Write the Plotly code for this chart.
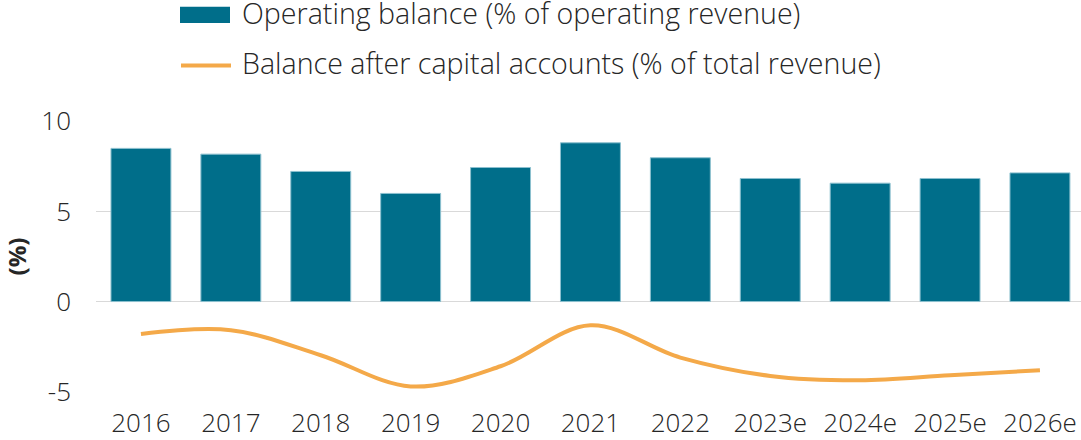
import plotly.graph_objects as go

years = ["2016", "2017", "2018", "2019", "2020", "2021", "2022",
         "2023e", "2024e", "2025e", "2026e"]
operating_balance = [8.50, 8.18, 7.22, 6.00, 7.44, 8.81, 7.98, 6.83, 6.57, 6.83, 7.14]
balance_after_capital = [-1.80, -1.59, -2.98, -4.71, -3.59, -1.32, -3.11, -4.13, -4.37, -4.09, -3.81]

bar_name = "Operating balance (% of operating revenue)"
line_name = "Balance after capital accounts (% of total revenue)"

BAR_COLOR = "#006E8A"
LINE_COLOR = "#F4A949"
TEXT_COLOR = "#262626"
FONT = "Open Sans"

W, H = 1081, 440
L, R = 96, 0
T = 121
AX_BOTTOM = 391.7
B = H - AX_BOTTOM
pw, ph = W - L - R, H - T - B
CAT_PX = 89.9
X_MAX = -0.5 + pw / CAT_PX

def px_x(x):
    return (x - L) / pw

def px_y(y):
    return (H - B - y) / ph

fig = go.Figure()
fig.add_trace(go.Bar(
    x=years, y=operating_balance, name=bar_name,
    marker=dict(color=BAR_COLOR, line=dict(color="#8cc0cf", width=1)),
    showlegend=False,
))
fig.add_trace(go.Scatter(
    x=years, y=balance_after_capital, name=line_name, mode="lines",
    line=dict(color=LINE_COLOR, width=4, shape="spline", smoothing=1.0),
    showlegend=False,
))

# custom legend
fig.add_shape(type="rect", xref="paper", yref="paper",
              x0=px_x(180), x1=px_x(230), y0=px_y(23), y1=px_y(7),
              fillcolor=BAR_COLOR, line=dict(width=0))
fig.add_shape(type="line", xref="paper", yref="paper",
              x0=px_x(181), x1=px_x(231), y0=px_y(65.5), y1=px_y(65.5),
              line=dict(color=LINE_COLOR, width=4))
for txt, yc in [(bar_name, 13), (line_name, 63)]:
    fig.add_annotation(text=txt, xref="paper", yref="paper",
                       x=px_x(240), y=px_y(yc), xanchor="left", yanchor="middle",
                       showarrow=False,
                       font=dict(family=FONT, size=28.6, color=TEXT_COLOR, weight=300))

fig.update_layout(
    width=W, height=H,
    margin=dict(l=L, r=R, t=T, b=B, pad=0, autoexpand=False),
    paper_bgcolor="white", plot_bgcolor="white",
    bargap=1/3,
    font=dict(family=FONT, size=26, color=TEXT_COLOR, weight=300),
    xaxis=dict(type="category", range=[-0.5, X_MAX], showgrid=False,
               showline=False, ticks="", tickfont=dict(size=26, weight=300),
               ticklabelstandoff=13, automargin=False),
    yaxis=dict(range=[-5.02, 10.02], tickvals=[-5, 0, 5, 10],
               ticktext=["-5", "0", "5", "10"],
               showgrid=True, gridcolor="#d9d9d9", gridwidth=1,
               zeroline=True, zerolinecolor="#d9d9d9", zerolinewidth=1,
               showline=False, ticks="", tickfont=dict(size=26, weight=300),
               ticklabelstandoff=24, automargin=False,
               title=dict(text="(%)", standoff=27,
                          font=dict(family=FONT, size=24, weight=700, color=TEXT_COLOR))),
)

fig.write_html("out.html",
               config={"displayModeBar": False},
               post_script="document.body.style.margin='0px';document.body.style.overflow='hidden';")
